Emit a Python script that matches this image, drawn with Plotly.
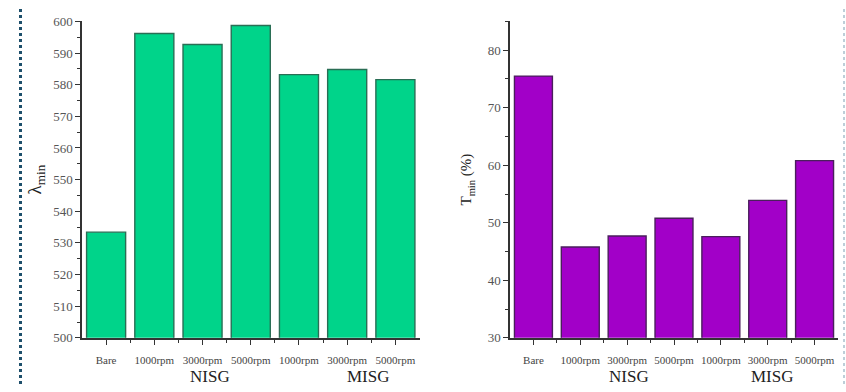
import plotly.graph_objects as go

# Sample labels and group names
categories = ["Bare", "1000rpm", "3000rpm", "5000rpm", "1000rpm", "3000rpm", "5000rpm"]
groups = ["NISG", "MISG"]

# Minimum wavelength (left) and minimum transmittance in % (right)
lambda_min = [533.4, 596.2, 592.7, 598.7, 583.2, 584.8, 581.6]
t_min = [75.5, 45.8, 47.7, 50.8, 47.6, 53.9, 60.8]

W, H = 846, 392
positions = list(range(len(categories)))

fig = go.Figure()
fig.add_trace(go.Bar(
    x=positions, y=lambda_min, xaxis="x", yaxis="y",
    marker=dict(color="#00d48a", line=dict(color="#2a6e55", width=1.4)),
    width=0.81, showlegend=False,
))
fig.add_trace(go.Bar(
    x=positions, y=t_min, xaxis="x2", yaxis="y2",
    marker=dict(color="#a200c8", line=dict(color="#4a1f5c", width=1.4)),
    width=0.81, showlegend=False,
))

ydom = [1 - 344 / H, 1 - 15 / H]
axis_common = dict(
    showline=True, linecolor="#333", linewidth=1.5, showgrid=False, zeroline=False,
    ticks="outside", ticklen=5, tickwidth=1.2, tickcolor="#333",
    tickfont=dict(family="Liberation Serif", size=11, color="#444"),
)
xcommon = dict(
    axis_common, range=[-0.5, 6.5], tickmode="array", tickvals=positions,
    ticktext=categories, ticklabelstandoff=6,
    minor=dict(tickmode="array", tickvals=[p + 0.5 for p in positions[:-1]],
               ticks="outside", ticklen=3, tickcolor="#333"),
)
ycommon = dict(axis_common, tickfont=dict(family="Liberation Serif", size=13, color="#555"))

fig.update_layout(
    width=W, height=H, margin=dict(l=0, r=0, t=0, b=0),
    paper_bgcolor="white", plot_bgcolor="white",
    bargap=0.19,
    xaxis=dict(xcommon, domain=[82 / W, 419.5 / W], anchor="y"),
    xaxis2=dict(xcommon, domain=[510 / W, 838 / W], anchor="y2"),
    yaxis=dict(ycommon, domain=ydom, anchor="x", range=[500, 600], dtick=10,
               minor=dict(dtick=5, ticks="outside", ticklen=3, tickcolor="#333"),
               title=dict(text="λ<sub>min</sub>", standoff=6,
                          font=dict(family="Liberation Serif", size=19, color="#222"))),
    yaxis2=dict(ycommon, domain=ydom, anchor="x2", range=[30, 85], dtick=10,
                minor=dict(dtick=5, ticks="outside", ticklen=3, tickcolor="#333"),
                title=dict(text="T<sub>min</sub> (%)", standoff=12,
                           font=dict(family="Liberation Serif", size=15, color="#222"))),
)

# Group labels under the sample labels
group_pos = {"x": [2.15, 5.45], "x2": [2.05, 5.1]}
for xref, xs in group_pos.items():
    for name, xp in zip(groups, xs):
        fig.add_annotation(text=name, x=xp, xref=xref, y=1 - 384 / H, yref="paper",
                           showarrow=False, yanchor="middle",
                           font=dict(family="Liberation Serif", size=17, color="#222"))

# Dotted frame edges
fig.add_shape(type="line", xref="paper", yref="paper", x0=20.5 / W, x1=20.5 / W, y0=0, y1=1,
              line=dict(color="#1d4f6b", width=3, dash="dot"))
fig.add_shape(type="line", xref="paper", yref="paper", x0=844 / W, x1=844 / W, y0=0, y1=1,
              line=dict(color="#a8bfcc", width=1.5, dash="dot"))

fig.write_html("out.html")
